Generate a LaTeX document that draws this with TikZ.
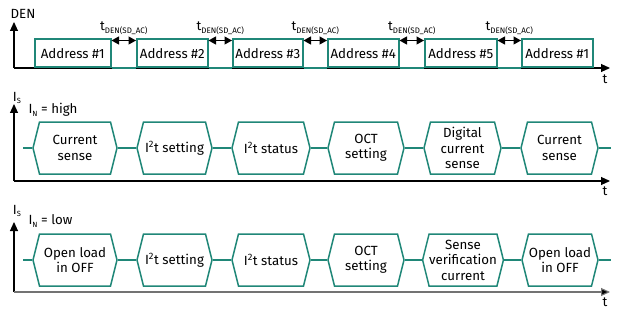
\documentclass[tikz,border=0pt]{standalone}
\usepackage{fontspec}
\setmainfont{Fira Sans}
\usetikzlibrary{shapes.symbols, arrows.meta}
\definecolor{ifxteal}{RGB}{32,135,120}
\newcommand{\tden}{t\raisebox{-3pt}{\fontsize{8}{9}\selectfont DEN(SD\_AC)}}
\newcommand{\isub}[1]{I\raisebox{-2.5pt}{\fontsize{7.5}{8}\selectfont #1}}

\begin{document}
\begin{tikzpicture}[x=1pt, y=-1pt,
		every node/.style={font=\fontsize{13.3}{15.5}\selectfont},
		axis/.style={line width=1.1pt, -{Triangle[length=9pt, width=8pt]}},
		sig/.style={draw=ifxteal, line width=1.5pt},
		pulse/.style={sig, rectangle, anchor=south west, minimum height=28pt, inner sep=0pt},
		hexa/.style={sig, signal, signal to=east and west, signal pointer angle=152, minimum height=52pt, inner sep=0pt, align=center},
		gap/.style={line width=1.2pt, {Triangle[length=7.5pt, width=8pt]}-{Triangle[length=7.5pt, width=8pt]}}]
	\useasboundingbox (0,0) rectangle (623,326);
	
	\coordinate (o1) at (14,68);
	\coordinate (y1) at (14,22);
	\coordinate (x1) at (610,68);
	\draw [axis] (o1) -- (y1);
	\draw [axis] (o1) -- (x1);
	\node (den) at (23,14) {DEN};
	\node (t1) at (605,79) {t};
	
	\node [pulse, minimum width=76pt] (a1) at (34,68) {Address \#1};
	\node [pulse, minimum width=71pt] (a2) at (136,68) {Address \#2};
	\node [pulse, minimum width=70pt] (a3) at (232,68) {Address \#3};
	\node [pulse, minimum width=71pt] (a4) at (327,68) {Address \#4};
	\node [pulse, minimum width=72pt] (a5) at (424,68) {Address \#5};
	\node [pulse, minimum width=71pt] (a6) at (521,68) {Address \#1};
	
	\foreach \i/\j in {1/2, 2/3, 3/4, 4/5, 5/6} {
		\draw [sig] (a\i.south east) -- (a\j.south west);
		\draw [gap] ([yshift=-2pt]a\i.north east) -- ([yshift=-2pt]a\j.north west)
			node [midway, above=2pt] (g\i) {\tden};
	}
	
	\coordinate (o2) at (14,181);
	\coordinate (y2) at (14,104);
	\coordinate (x2) at (610,181);
	\draw [axis] (o2) -- (y2);
	\draw [axis] (o2) -- (x2);
	\node (is2) at (17,98) {\isub{S}};
	\node [anchor=west] (in2) at (25,110) {\isub{N} = high};
	\node (t2) at (605,191) {t};
	
	\coordinate (s2) at (23,148);
	\coordinate (e2) at (611,148);
	\node [hexa, minimum width=84pt] (h1) at (75,148) {Current\\sense};
	\node [hexa, minimum width=75pt] (h2) at (174.5,148) {I\textsuperscript{2}t setting};
	\node [hexa, minimum width=78pt] (h3) at (271,148) {I\textsuperscript{2}t status};
	\node [hexa, minimum width=76pt] (h4) at (366,148) {OCT\\setting};
	\node [hexa, minimum width=77pt] (h5) at (462.5,148) {Digital\\current\\sense};
	\node [hexa, minimum width=77pt] (h6) at (559.5,148) {Current\\sense};
	\draw [sig] (s2) -- (h1.west);
	\foreach \i/\j in {1/2, 2/3, 3/4, 4/5, 5/6}
		\draw [sig] (h\i.east) -- (h\j.west);
	\draw [sig] (h6.east) -- (e2);
	
	\coordinate (o3) at (14,292);
	\coordinate (y3) at (14,222);
	\coordinate (x3) at (610,292);
	\draw [axis] (o3) -- (y3);
	\draw [axis, black!55, -{Triangle[length=9pt, width=8pt, fill=black]}] (o3) -- (x3);
	\node (is3) at (17,211) {\isub{S}};
	\node [anchor=west] (in3) at (25,221) {\isub{N} = low};
	\node (t3) at (605,302) {t};
	
	\coordinate (s3) at (23,260);
	\coordinate (e3) at (611,260);
	\node [hexa, minimum width=84pt] (k1) at (75,260) {Open load\\in OFF};
	\node [hexa, minimum width=75pt] (k2) at (174.5,260) {I\textsuperscript{2}t setting};
	\node [hexa, minimum width=78pt] (k3) at (271,260) {I\textsuperscript{2}t status};
	\node [hexa, minimum width=76pt] (k4) at (366,260) {OCT\\setting};
	\node [hexa, minimum width=78pt] (k5) at (463,260) {Sense\\verification\\current};
	\node [hexa, minimum width=76pt] (k6) at (560,260) {Open load\\in OFF};
	\draw [sig] (s3) -- (k1.west);
	\foreach \i/\j in {1/2, 2/3, 3/4, 4/5, 5/6}
		\draw [sig] (k\i.east) -- (k\j.west);
	\draw [sig] (k6.east) -- (e3);
\end{tikzpicture}
\end{document}
